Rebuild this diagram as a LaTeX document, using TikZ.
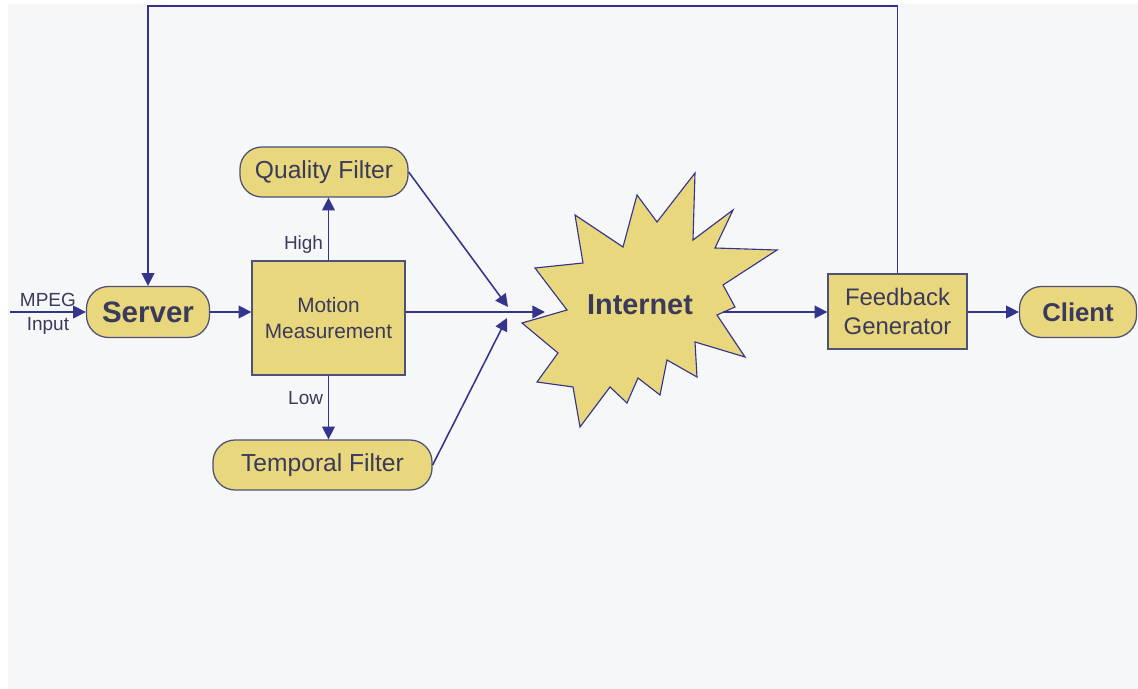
\documentclass[tikz,border=0pt]{standalone}
\usepackage{fontspec}
\setmainfont{Liberation Sans}
\usepackage{tikz}
\usetikzlibrary{arrows.meta}
\definecolor{bg}{RGB}{246,247,248}
\definecolor{wire}{RGB}{52,52,140}
\definecolor{edge}{RGB}{80,80,120}
\definecolor{khaki}{RGB}{232,215,124}
\definecolor{ink}{RGB}{58,58,90}
\tikzstyle{block} = [draw=edge,fill=khaki,rectangle,line width=0.9pt,text=ink,align=center,inner sep=0pt]
\tikzstyle{pill} = [block,rounded corners=0.55cm]
\tikzstyle{connector} = [-{Triangle[length=9pt,width=9pt]},draw=wire,line width=1.1pt]
\tikzstyle{line} = [draw=wire,line width=1.1pt]
\tikzstyle{tag} = [text=ink,font=\fontsize{13.5}{16}\selectfont]

\begin{document}
\begin{tikzpicture}[x=0.025cm,y=-0.025cm]
    \useasboundingbox (0,0) rectangle (1138,689);
    \fill[white] (0,0) rectangle (1138,689);
    \fill[bg] (8,4) rectangle (1138,689);
    % cloud behind the network label
    \filldraw[fill=khaki,draw=wire,line width=0.8pt]
      (695,173) -- (693,240) -- (733,210) -- (715,248) -- (777,250) -- (723,285)
      -- (735,307) -- (717,315) -- (745,357) -- (695,342) -- (697,377) -- (667,360)
      -- (660,395) -- (638,378) -- (627,403) -- (610,387) -- (580,427) -- (573,387)
      -- (537,382) -- (558,353) -- (522,323) -- (567,310) -- (535,268) -- (583,263)
      -- (575,215) -- (623,247) -- (637,195) -- (657,222) -- cycle;
    % the nodes
    \node[pill,minimum width=3.075cm,minimum height=1.275cm,
          font=\bfseries\fontsize{21}{24}\selectfont] (server) at (148,312) {Server};
    \node[block,minimum width=3.825cm,minimum height=2.85cm,
          font=\fontsize{14.8}{18}\selectfont] (motion) at (328.5,318) {Motion\\Measurement};
    \node[pill,minimum width=4.2cm,minimum height=1.25cm,
          font=\fontsize{17.5}{20}\selectfont] (quality) at (324,172) {Quality Filter};
    \node[pill,minimum width=5.475cm,minimum height=1.25cm,
          font=\fontsize{17.5}{20}\selectfont] (temporal) at (322.5,465) {Temporal Filter};
    \node[text=ink,font=\bfseries\fontsize{20.5}{22}\selectfont] (internet) at (640,305) {Internet};
    \node[block,minimum width=3.475cm,minimum height=1.875cm,
          font=\fontsize{17}{21}\selectfont] (feedback) at (897.5,311.5) {Feedback\\Generator};
    \node[pill,minimum width=2.925cm,minimum height=1.275cm,
          font=\bfseries\fontsize{18.3}{20}\selectfont] (client) at (1078,312) {Client};
    \coordinate (mpeg) at (10,312);
    \coordinate (jointop) at (508,307);
    \coordinate (joinbot) at (507,318);
    \coordinate (netin) at (545,312);
    \coordinate (netout) at (723,312);
    \coordinate (loop) at (148,6);
    % now link the nodes
    \draw [connector] (mpeg) -- node[tag,above] {MPEG} node[tag,below] {Input} (server.west);
    \draw [connector] (server.east) -- (server.east -| motion.west);
    \draw [connector] (motion.north) -- node[tag,left,pos=0.25] {High} (motion.north |- quality.south);
    \draw [connector] (motion.south) -- node[tag,left,pos=0.35] {Low} (motion.south |- temporal.north);
    \draw [connector] (quality.east) -- (jointop);
    \draw [connector] (temporal.east) -- (joinbot);
    \draw [connector] (server.east -| motion.east) -- (netin);
    \draw [connector] (netout) -- (feedback.west |- netout);
    \draw [connector] (feedback.east |- client) -- (client.west);
    \draw [connector] (feedback.north) |- (loop) -- (server.north);
\end{tikzpicture}
\end{document}
